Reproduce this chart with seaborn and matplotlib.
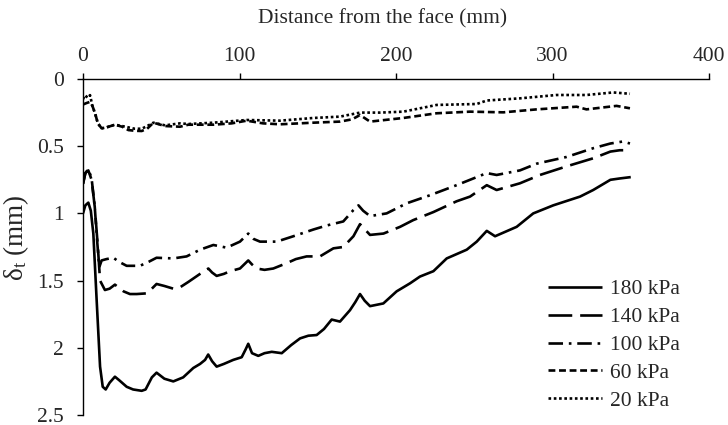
import matplotlib
matplotlib.use("Agg")
import matplotlib.pyplot as plt
import seaborn as sns
import pandas as pd

# ---- data ----
x_180 = [0, 1.5, 3.4, 5, 6.6, 8.7, 10.9, 12.6, 14.5, 17, 20.4, 23, 27.9, 32, 37.5, 40, 44, 47, 52, 57.7,
         64, 70.5, 74.8, 78, 80, 82.5, 85.4, 90, 96, 101.4, 104, 105.6, 108, 112, 116, 120.6, 127, 133,
         138.7, 144, 149.3, 154, 158.9, 164.2, 170.6, 174, 177, 180, 183.4, 191.9, 200.4, 209, 215.3,
         223.9, 232.4, 245.2, 251.6, 258, 263.3, 277.1, 287.7, 300.5, 317.6, 326, 337, 343, 350]
y_180 = [1.0, 0.94, 0.92, 0.98, 1.15, 1.64, 2.14, 2.29, 2.31, 2.26, 2.215, 2.24, 2.29, 2.31, 2.32, 2.31, 2.22, 2.185, 2.23, 2.25,
         2.22, 2.15, 2.12, 2.09, 2.05, 2.10, 2.14, 2.12, 2.09, 2.07, 2.01, 1.97, 2.04, 2.06, 2.04, 2.03, 2.04, 1.98,
         1.93, 1.91, 1.905, 1.86, 1.79, 1.805, 1.72, 1.66, 1.60, 1.65, 1.69, 1.67, 1.58, 1.52, 1.47,
         1.43, 1.335, 1.27, 1.21, 1.13, 1.17, 1.10, 1.00, 0.94, 0.875, 0.826, 0.75, 0.74, 0.73]

x_140 = [0, 1.5, 3.4, 5.5, 7.5, 9.5, 10.9, 14, 17, 20.4, 25.9, 30, 34.3, 40.7, 44, 47, 52, 57.7, 62, 67.3,
         74.8, 80.1, 82.5, 85.4, 90, 94, 100.3, 105.6, 108, 111, 116, 121.6, 130.2, 136, 142.9, 151.4,
         160, 166.3, 172.8, 177, 183.4, 192, 202.6, 211, 223.9, 238.7, 247.3, 258, 264.3, 279.2, 292,
         309, 326, 337, 343, 349.5]
y_140 = [0.78, 0.70, 0.68, 0.75, 0.95, 1.25, 1.50, 1.57, 1.56, 1.53, 1.58, 1.60, 1.60, 1.595, 1.56, 1.525, 1.54, 1.56, 1.55, 1.51,
         1.45, 1.41, 1.44, 1.465, 1.45, 1.43, 1.41, 1.35, 1.38, 1.41, 1.42, 1.41, 1.37, 1.34, 1.32, 1.32,
         1.26, 1.25, 1.17, 1.08, 1.16, 1.15, 1.10, 1.05, 0.99, 0.91, 0.875, 0.79, 0.826, 0.776, 0.714,
         0.65, 0.59, 0.54, 0.53, 0.53]

x_100 = [0, 1.5, 3.4, 5.5, 7.5, 9, 10.4, 11.9, 15, 19.4, 23, 27.9, 36.4, 42, 47, 57.7, 66.2, 74.8, 83.3,
         91.8, 100.3, 105.6, 109, 113.1, 123.8, 134.4, 147.2, 155.7, 166.3, 172.8, 176, 179, 183.4, 194,
         206.8, 221.7, 238.7, 258, 264.3, 279.2, 289.9, 309, 326, 337, 345, 349.5]
y_100 = [0.78, 0.70, 0.67, 0.74, 0.95, 1.2, 1.40, 1.35, 1.34, 1.33, 1.36, 1.39, 1.39, 1.36, 1.33, 1.335, 1.32, 1.27, 1.235,
         1.255, 1.21, 1.15, 1.19, 1.21, 1.21, 1.17, 1.12, 1.09, 1.06, 0.975, 0.94, 0.98, 1.02, 1.0,
         0.925, 0.865, 0.79, 0.70, 0.714, 0.68, 0.63, 0.58, 0.515, 0.48, 0.465, 0.48]

x_60 = [0, 2, 4.5, 6, 7.7, 9.5, 11.9, 15, 20.4, 25, 29, 33, 37.5, 41, 45, 52.4, 62, 67.3, 83.3, 95,
        104.6, 115, 125.9, 147.2, 164.2, 172, 177, 183.4, 204.7, 226, 247.3, 268.6, 289.9, 315.4,
        321.7, 340.9, 349.5]
y_60 = [0.19, 0.18, 0.17, 0.2, 0.255, 0.33, 0.367, 0.36, 0.34, 0.355, 0.38, 0.385, 0.387, 0.37, 0.325, 0.35, 0.355, 0.34, 0.34, 0.33,
        0.31, 0.33, 0.337, 0.325, 0.317, 0.3, 0.268, 0.317, 0.29, 0.255, 0.243, 0.248, 0.226, 0.206,
        0.226, 0.20, 0.218]

x_20 = [0, 1.3, 3, 4.5, 6, 7.7, 9.5, 11.9, 15, 20.4, 25, 29, 33, 37.5, 41, 45, 52.4, 62, 67.3, 83.3,
        104.6, 125.9, 147.2, 164.2, 177, 189.8, 204.7, 226, 251.6, 258, 279.2, 302.6, 321.7, 338.8, 349.5]
y_20 = [0.15, 0.12, 0.14, 0.12, 0.2, 0.255, 0.33, 0.367, 0.36, 0.34, 0.35, 0.36, 0.37, 0.37, 0.35, 0.325, 0.345, 0.33, 0.335, 0.325,
        0.305, 0.31, 0.29, 0.28, 0.25, 0.25, 0.243, 0.193, 0.186, 0.16, 0.144, 0.119, 0.119, 0.10, 0.11]

labels = ["180 kPa", "140 kPa", "100 kPa", "60 kPa", "20 kPa"]
xticks = [0, 100, 200, 300, 400]
yticks = [0, 0.5, 1, 1.5, 2, 2.5]
ytick_labels = ["0", "0.5", "1", "1.5", "2", "2.5"]

# ---- style ----
sns.set_style("white")
plt.rcParams["font.family"] = ["Liberation Serif", "DejaVu Serif"]
plt.rcParams["mathtext.fontset"] = "custom"
plt.rcParams["mathtext.rm"] = "Liberation Serif"
plt.rcParams["mathtext.it"] = "Liberation Serif:italic"
FS = 15.5

fig = plt.figure(figsize=(7.28, 4.25), dpi=100)
ax = fig.add_axes([83 / 728, 1 - 415 / 425, (709 - 83) / 728, (415 - 79) / 425])

series = [(x_180, y_180), (x_140, y_140), (x_100, y_100), (x_60, y_60), (x_20, y_20)]
styles = [(0, ()), (0, (9, 3)), (0, (5.5, 2.2, 1, 2.2)), (0, (2.6, 1.4)), (0, (1, 1))]
for (xs, ys), lab, ls in zip(series, labels, styles):
    df = pd.DataFrame({"x": xs, "y": ys})
    sns.lineplot(data=df, x="x", y="y", ax=ax, color="black", linewidth=1.9,
                 linestyle=ls, label=lab, sort=False, estimator=None)
for ln in ax.lines:
    ln.set_solid_joinstyle("round")
    ln.set_dash_joinstyle("round")

ax.set_xlim(0, 400)
ax.set_ylim(2.5, 0)
ax.xaxis.tick_top()
ax.xaxis.set_label_position("top")
ax.set_xticks(xticks)
ax.set_xticklabels([str(t) for t in xticks], fontsize=FS)
ax.set_yticks(yticks)
ax.set_yticklabels(ytick_labels, fontsize=FS)
ax.set_xlabel("Distance from the face (mm)", fontsize=FS)
ax.xaxis.set_label_coords(0.478, 1.165)
ax.set_ylabel(r"δ$_\mathrm{t}$ (mm)", fontsize=19.5)
ax.yaxis.set_label_coords((31 - 83) / 626, (415 - 238) / 336)

for s in ["right", "bottom"]:
    ax.spines[s].set_visible(False)
for s in ["left", "top"]:
    ax.spines[s].set_color("black")
    ax.spines[s].set_linewidth(1.0)
ax.tick_params(axis="both", direction="out", length=4.5, width=1.0, color="black")
ax.tick_params(axis="x", top=True, bottom=False, pad=5)
ax.tick_params(axis="y", left=True, right=False, pad=9.5)

leg = ax.legend(loc="lower right", bbox_to_anchor=(0.985, -0.045), frameon=False, fontsize=FS,
                handlelength=2.5, handletextpad=0.4, labelspacing=0.36)

fig.savefig("out.png", dpi=100)
